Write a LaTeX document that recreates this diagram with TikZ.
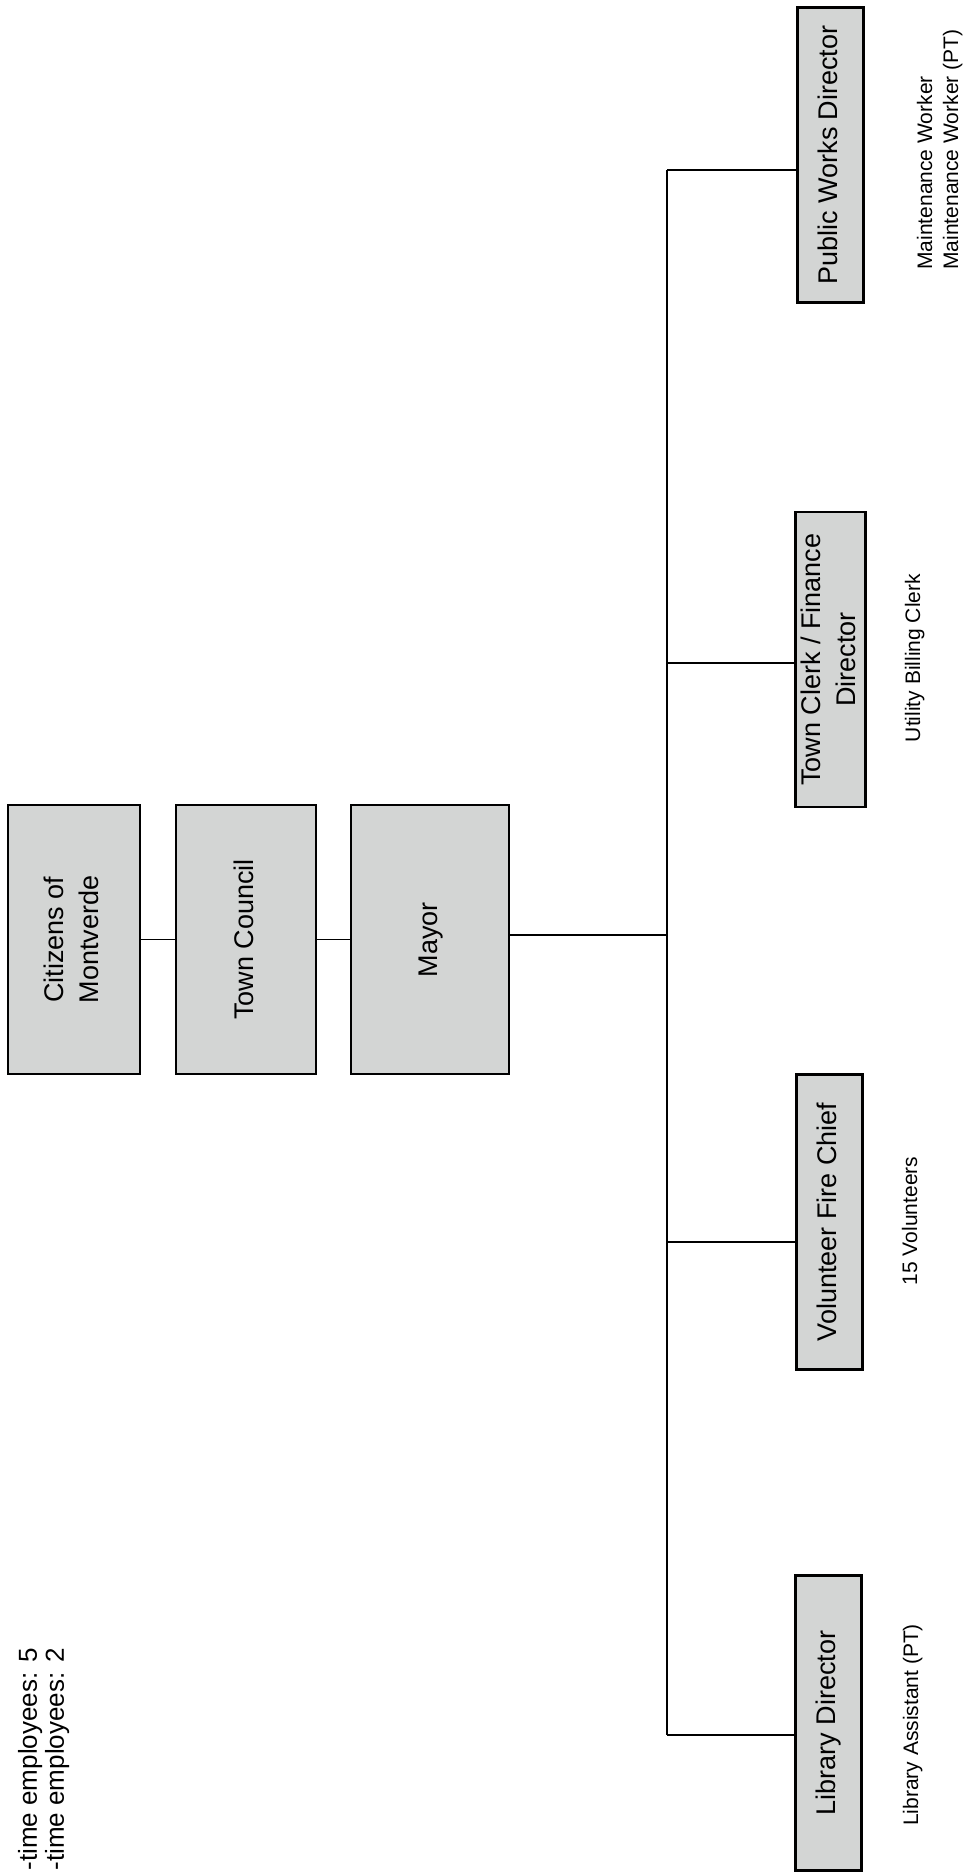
\documentclass[tikz,border=0pt]{standalone}
\usepackage{fontspec}
\setmainfont{Liberation Sans}
\usepackage{graphicx}
\definecolor{boxgray}{RGB}{211,213,212}
\newcommand{\vtext}[2][c]{\rotatebox{90}{\begin{tabular}{@{}#1@{}}#2\end{tabular}}}
\begin{document}
\begin{tikzpicture}[x=0.5pt,y=-0.5pt,
  orgbox/.style={draw=black, line width=1.3pt, fill=boxgray, inner sep=0pt, font=\fontsize{13.5}{17.5}\selectfont},
  sidebox/.style={orgbox, minimum width=33pt, minimum height=147.5pt},
  topbox/.style={orgbox, minimum height=134.5pt},
  link/.style={line width=0.9pt},
  sub/.style={inner sep=0pt, font=\fontsize{10.5}{13}\selectfont}]
\useasboundingbox (0,0) rectangle (964,1872);
\clip (0,0) rectangle (964,1872);
% top chain
\node[topbox, minimum width=66pt] (cit) at (74,939.5) {\vtext{Citizens of\\Montverde}};
\node[topbox, minimum width=70pt] (cou) at (246,939.5) {\vtext{Town Council}};
\node[topbox, minimum width=79pt] (may) at (430,939.5) {\vtext{Mayor}};
% departments
\node[sidebox] (pwd) at (830.5,155) {\vtext{Public Works Director}};
\node[sidebox] (clerk) at (830.5,659.5) {\vtext{Town Clerk / Finance\\Director}};
\node[sidebox] (fire) at (829.5,1222) {\vtext{Volunteer Fire Chief}};
\node[sidebox] (lib) at (828.5,1723) {\vtext{Library Director}};
% staff labels
\node[sub, anchor=south] (mw) at (940,270) {\vtext[l]{Maintenance Worker\\Maintenance Worker (PT)}};
\node[sub] (ubc) at (915,658) {\vtext{Utility Billing Clerk}};
\node[sub] (vol) at (912,1221) {\vtext{15 Volunteers}};
\node[sub] (la) at (913,1725) {\vtext{Library Assistant (PT)}};
\node[inner sep=0pt, anchor=north, font=\fontsize{13}{13.5}\selectfont] (emp) at (45,1648) {\vtext[r]{-time employees: 5\\-time employees: 2}};
% connectors
\coordinate (bt) at (667,170);
\coordinate (bb) at (667,1735);
\coordinate (jm) at (667,935);
\coordinate (jc) at (667,663);
\coordinate (jf) at (667,1242);
\draw[link] (cit) -- (cou);
\draw[link] (cou) -- (may);
\draw[link] (may.east |- jm) -- (jm);
\draw[link] (bt) -- (bb);
\draw[link] (bt) -- (bt -| pwd.west);
\draw[link] (jc) -- (jc -| clerk.west);
\draw[link] (jf) -- (jf -| fire.west);
\draw[link] (bb) -- (bb -| lib.west);
\end{tikzpicture}
\end{document}
